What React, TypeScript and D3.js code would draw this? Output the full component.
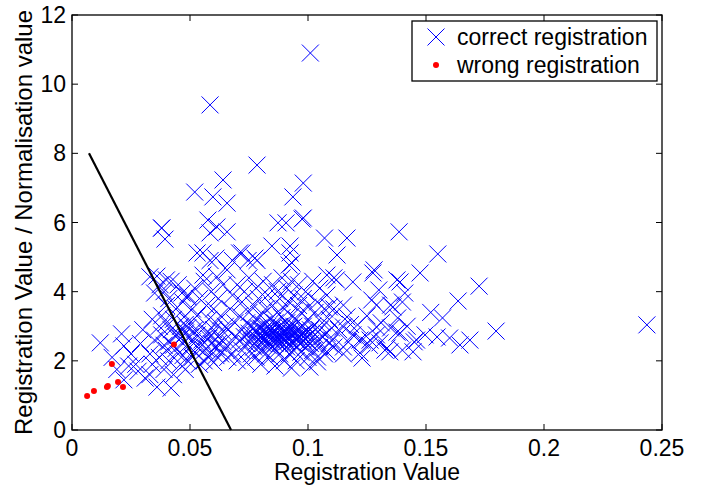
import {useEffect, useRef} from "react";
import * as d3 from "d3";

// correct registrations: [registration value, registration / normalisation value]
const correctX = [
  // sparse left part
  0.012, 0.021, 0.022, 0.017, 0.024, 0.025, 0.022, 0.028, 0.029, 0.027, 0.019, 0.030, 0.031, 0.033, 0.034,
  // 0.03 - 0.05
  0.035, 0.036, 0.037, 0.038, 0.038, 0.0394, 0.036, 0.039, 0.040, 0.041, 0.042, 0.040, 0.041, 0.042, 0.043,
  0.044, 0.044, 0.045, 0.045, 0.046, 0.046, 0.047, 0.047, 0.048, 0.048, 0.049, 0.049, 0.050, 0.050, 0.043,
  0.039, 0.037, 0.034, 0.033, 0.040, 0.042, 0.044, 0.046, 0.048, 0.049, 0.033, 0.0373, 0.040, 0.035, 0.0466,
  0.049,
  // 0.05 - 0.065
  0.050, 0.051, 0.051, 0.052, 0.052, 0.053, 0.053, 0.054, 0.054, 0.055, 0.055, 0.056, 0.056, 0.057, 0.057,
  0.058, 0.058, 0.059, 0.059, 0.060, 0.060, 0.060, 0.061, 0.061, 0.062, 0.062, 0.063, 0.063, 0.064, 0.064,
  0.065, 0.065, 0.056, 0.058,
  // dense core
  0.066, 0.066, 0.067, 0.067, 0.068, 0.068, 0.069, 0.069, 0.070, 0.070, 0.071, 0.071, 0.072, 0.072, 0.072,
  0.073, 0.073, 0.074, 0.074, 0.074, 0.075, 0.075, 0.075, 0.076, 0.076, 0.076, 0.077, 0.077, 0.077, 0.078,
  0.078, 0.078, 0.078, 0.079, 0.079, 0.079, 0.080, 0.080, 0.080, 0.080, 0.081, 0.081, 0.081, 0.081, 0.082,
  0.082, 0.082, 0.083, 0.083, 0.083, 0.083, 0.084, 0.084, 0.084, 0.084, 0.085, 0.085, 0.085, 0.085, 0.086,
  0.086, 0.086, 0.086, 0.087, 0.087, 0.087, 0.087, 0.088, 0.088, 0.088, 0.088, 0.089, 0.089, 0.089, 0.089,
  0.090, 0.090, 0.090, 0.090, 0.091, 0.091, 0.091, 0.091, 0.092, 0.092, 0.092, 0.092, 0.093, 0.093, 0.093,
  0.093, 0.094, 0.094, 0.094, 0.094, 0.095, 0.095, 0.095, 0.096, 0.096, 0.096, 0.096, 0.097, 0.097, 0.097,
  0.098, 0.098, 0.098, 0.099, 0.099, 0.099, 0.100, 0.100, 0.100, 0.100, 0.101, 0.101, 0.102, 0.102, 0.102,
  0.103, 0.103, 0.104, 0.104, 0.105, 0.105, 0.105, 0.106, 0.106, 0.107, 0.107, 0.108, 0.108, 0.109, 0.109,
  0.110, 0.110, 0.111, 0.111,
  // upper outliers
  0.101, 0.0585, 0.0784, 0.098, 0.064, 0.052, 0.0597, 0.0936, 0.0657, 0.0576, 0.0614, 0.0585, 0.0657, 0.0873,
  0.0907, 0.0975, 0.038, 0.107, 0.1165, 0.1386, 0.0847, 0.0924, 0.1123, 0.155, 0.053, 0.0555, 0.0585, 0.068,
  0.0657, 0.071, 0.0746, 0.0784, 0.0924, 0.0932, 0.072, 0.0775, 0.061, 0.0614, 0.128, 0.1475, 0.092, 0.098,
  0.0555,
  // right part
  0.1725, 0.1636, 0.119, 0.139, 0.157, 0.1797, 0.1686, 0.1644, 0.160, 0.1547, 0.1496, 0.1445, 0.140, 0.139,
  0.1347, 0.1229, 0.104, 0.115, 0.129, 0.140, 0.1275, 0.130, 0.1377, 0.141, 0.127, 0.136, 0.138, 0.129,
  0.122, 0.1335, 0.129, 0.121, 0.1165, 0.109, 0.112, 0.108, 0.104, 0.113, 0.117, 0.119, 0.125, 0.131, 0.126,
  0.111, 0.115, 0.118, 0.123, 0.135, 0.142, 0.145, 0.152, 0.146, 0.1326, 0.115, 0.122, 0.1263, 0.135, 0.115,
  0.108, 0.1008, 0.1305, 0.1377, 0.2436,
  // extra density in the core
  0.078, 0.079, 0.080, 0.081, 0.082, 0.083, 0.084, 0.085, 0.086, 0.087, 0.088, 0.089, 0.090, 0.091, 0.092,
  0.093, 0.094, 0.095, 0.096, 0.097, 0.098, 0.099, 0.100, 0.101, 0.083, 0.086, 0.089, 0.091, 0.087, 0.093,
  // extra density left of the core
  0.041, 0.043, 0.045, 0.047, 0.048, 0.051, 0.052, 0.053, 0.055, 0.057, 0.059, 0.061, 0.062, 0.064, 0.039,
  0.038,
];
const correctY = [
  2.52, 2.78, 2.43, 2.10, 1.85, 2.20, 1.45, 1.70, 2.50, 1.90, 1.75, 2.90, 1.50, 2.20, 1.90,
  2.60, 1.24, 3.00, 3.30, 5.84, 5.52, 4.45, 4.00, 3.60, 3.80, 1.21, 2.30, 2.00, 2.90, 3.20,
  2.70, 3.50, 2.20, 4.20, 1.90, 3.00, 3.70, 2.50, 2.80, 3.30, 2.00, 3.90, 2.40, 3.10, 1.60,
  1.75, 2.10, 3.20, 1.60, 3.10, 4.30, 2.35, 2.65, 1.75, 2.95, 4.43, 4.20, 4.34, 3.96, 3.96,
  3.85,
  2.70, 3.50, 2.10, 4.10, 2.90, 2.40, 3.30, 3.80, 1.90, 2.60, 3.00, 4.30, 2.30, 3.60, 2.80,
  2.10, 3.20, 2.50, 4.00, 2.90, 3.50, 1.95, 2.40, 3.10, 2.70, 3.80, 2.20, 3.30, 2.55, 4.20,
  3.00, 2.35, 2.00, 2.65,
  2.10, 2.90, 3.50, 2.50, 3.90, 2.20, 3.10, 2.70, 4.20, 2.00, 3.30, 2.60, 2.90, 3.70, 2.30,
  2.70, 4.00, 3.10, 2.50, 1.95, 2.80, 3.40, 4.40, 2.60, 3.00, 2.20, 3.60, 2.75, 2.40, 2.90,
  3.20, 2.11, 4.10, 2.60, 2.95, 3.80, 2.70, 3.30, 2.30, 1.90, 2.85, 3.05, 4.30, 2.50, 2.65,
  3.50, 2.20, 2.80, 3.00, 3.90, 2.45, 2.70, 2.90, 3.20, 2.10, 2.60, 2.85, 3.60, 4.20, 2.75,
  3.10, 2.35, 1.85, 2.55, 2.95, 3.40, 4.00, 2.70, 3.00, 2.20, 3.80, 2.80, 2.50, 3.25, 4.40,
  2.65, 2.90, 3.50, 2.00, 2.75, 3.10, 2.40, 4.10, 2.60, 2.95, 3.70, 2.20, 2.80, 3.30, 1.79,
  4.30, 2.50, 3.00, 3.90, 2.30, 2.70, 3.20, 2.00, 2.90, 2.55, 3.60, 4.20, 2.75, 3.40, 2.25,
  2.60, 3.00, 3.80, 2.85, 2.40, 4.00, 2.70, 3.20, 2.10, 3.55, 2.90, 2.50, 3.00, 4.30, 2.30,
  2.75, 3.40, 2.60, 3.70, 2.90, 2.40, 4.10, 3.10, 2.70, 2.20, 3.50, 2.80, 3.90, 2.50, 3.20,
  2.95, 2.60, 3.50, 4.40,
  10.9, 9.40, 7.66, 7.14, 7.23, 6.88, 6.74, 6.74, 6.56, 6.07, 5.87, 5.70, 5.73, 5.99,
  5.99, 6.10, 5.84, 5.55, 5.55, 5.73, 5.32, 5.32, 5.06, 5.09, 5.12, 4.48, 4.90, 4.90,
  4.63, 5.12, 4.90, 4.90, 5.12, 4.83, 5.12, 4.97, 4.97, 4.43, 4.63, 4.54, 4.77, 6.13,
  5.12,
  4.16, 3.73, 4.28, 4.28, 3.24, 2.86, 2.60, 2.46, 2.66, 2.69, 2.75, 2.26, 2.31, 2.80,
  2.26, 2.08, 1.97, 3.61, 3.61, 3.70, 4.54, 4.05, 4.34, 3.96, 3.76, 3.56, 3.24, 2.75,
  2.23, 2.37, 2.98, 3.04, 3.27, 3.56, 4.34, 4.48, 2.11, 2.90, 2.55, 2.75, 3.30, 3.10, 2.45,
  2.40, 2.20, 3.05, 2.60, 2.95, 3.00, 2.55, 3.40, 2.60, 2.31, 2.98, 2.60, 2.60, 3.61, 2.40,
  2.26, 1.82, 2.52, 2.83, 3.04,
  2.55, 2.75, 2.95, 2.60, 2.85, 2.55, 2.45, 2.95, 2.65, 2.80, 2.50, 2.65, 2.80, 2.55, 2.70,
  2.55, 2.80, 2.60, 2.70, 2.50, 2.80, 2.65, 2.55, 2.75, 2.70, 2.50, 2.95, 2.90, 2.65, 2.95,
  2.55, 2.45, 2.80, 2.15, 3.05, 2.55, 2.25, 2.75, 2.45, 2.35, 2.75, 2.15, 2.50, 2.85, 2.45,
  2.75,
];

// wrong registrations
const wrongX = [0.0064, 0.0093, 0.0148, 0.0152, 0.0195, 0.0216, 0.0169, 0.0432];
const wrongY = [0.98, 1.13, 1.24, 1.27, 1.39, 1.24, 1.91, 2.47];

// separating line
const lineX = [0.0072, 0.0674];
const lineY = [8, 0];

const xTicks = [0, 0.05, 0.1, 0.15, 0.2, 0.25];
const yTicks = [0, 2, 4, 6, 8, 10, 12];

const FONT = "'Liberation Sans', Arial, Helvetica, sans-serif";

function ScatterChart() {
    const ref = useRef<SVGSVGElement>(null);

    useEffect(() => {
        const svg = d3.select(ref.current);
        svg.selectAll("*").remove();

        const left = 72, right = 662, top = 15, bottom = 430;
        const x = d3.scaleLinear().domain([0, 0.25]).range([left, right]);
        const y = d3.scaleLinear().domain([0, 12]).range([bottom, top]);

        const g = svg.append("g");

        // blue crosses
        const s = 8.5;
        const cross = (cx: number, cy: number) =>
            `M${cx - s},${cy - s}L${cx + s},${cy + s}M${cx - s},${cy + s}L${cx + s},${cy - s}`;
        const pts = correctX.map((v, i) => [v, correctY[i]]);
        g.append("g").selectAll("path")
            .data(pts)
            .enter()
            .append("path")
            .attr("d", d => cross(x(d[0]), y(d[1])))
            .attr("stroke", "#0000ff")
            .attr("stroke-width", 1)
            .attr("fill", "none");

        // red dots
        const wrong = wrongX.map((v, i) => [v, wrongY[i]]);
        g.append("g").selectAll("circle")
            .data(wrong)
            .enter()
            .append("circle")
            .attr("cx", d => x(d[0]))
            .attr("cy", d => y(d[1]))
            .attr("r", 3)
            .attr("fill", "#ff0000");

        // black line
        const line = d3.line<number>()
            .x(d => x(d))
            .y((d, i) => y(lineY[i]));
        g.append("path")
            .attr("d", line(lineX))
            .attr("stroke", "#000")
            .attr("stroke-width", 2.2)
            .attr("fill", "none");

        // box and ticks (inward, MATLAB style)
        g.append("rect")
            .attr("x", left).attr("y", top)
            .attr("width", right - left).attr("height", bottom - top)
            .attr("fill", "none")
            .attr("stroke", "#000")
            .attr("stroke-width", 1.3);

        const tl = 6;
        xTicks.forEach(t => {
            g.append("line").attr("x1", x(t)).attr("x2", x(t)).attr("y1", bottom).attr("y2", bottom - tl)
                .attr("stroke", "#000");
            g.append("line").attr("x1", x(t)).attr("x2", x(t)).attr("y1", top).attr("y2", top + tl)
                .attr("stroke", "#000");
            g.append("text")
                .attr("x", x(t)).attr("y", bottom + 26)
                .attr("text-anchor", "middle")
                .attr("font-family", FONT).attr("font-size", 23)
                .text(d3.format("~g")(t));
        });
        yTicks.forEach(t => {
            g.append("line").attr("x1", left).attr("x2", left + tl).attr("y1", y(t)).attr("y2", y(t))
                .attr("stroke", "#000");
            g.append("line").attr("x1", right).attr("x2", right - tl).attr("y1", y(t)).attr("y2", y(t))
                .attr("stroke", "#000");
            g.append("text")
                .attr("x", left - 6).attr("y", y(t) + 8)
                .attr("text-anchor", "end")
                .attr("font-family", FONT).attr("font-size", 23)
                .text(t);
        });

        // axis labels
        g.append("text")
            .attr("x", (left + right) / 2).attr("y", 480)
            .attr("text-anchor", "middle")
            .attr("font-family", FONT).attr("font-size", 23)
            .text("Registration Value");
        g.append("text")
            .attr("transform", `translate(32,${(top + bottom) / 2}) rotate(-90)`)
            .attr("text-anchor", "middle")
            .attr("font-family", FONT).attr("font-size", 24)
            .text("Registration Value / Normalisation value");

        // legend
        const lg = g.append("g");
        lg.append("rect")
            .attr("x", 412).attr("y", 21).attr("width", 245).attr("height", 60)
            .attr("fill", "#fff").attr("stroke", "#000").attr("stroke-width", 1.3);
        lg.append("path").attr("d", cross(436, 37)).attr("stroke", "#0000ff").attr("fill", "none");
        lg.append("circle").attr("cx", 436).attr("cy", 65).attr("r", 3).attr("fill", "#ff0000");
        lg.append("text").attr("x", 457).attr("y", 45)
            .attr("font-family", FONT).attr("font-size", 23).text("correct registration");
        lg.append("text").attr("x", 457).attr("y", 73)
            .attr("font-family", FONT).attr("font-size", 23).text("wrong registration");
    }, []);

    return <svg ref={ref} width={701} height={485}
                style={{position: "absolute", left: 0, top: 0, background: "#fff"}}/>;
}

export default function App() {
    return <ScatterChart/>;
}
